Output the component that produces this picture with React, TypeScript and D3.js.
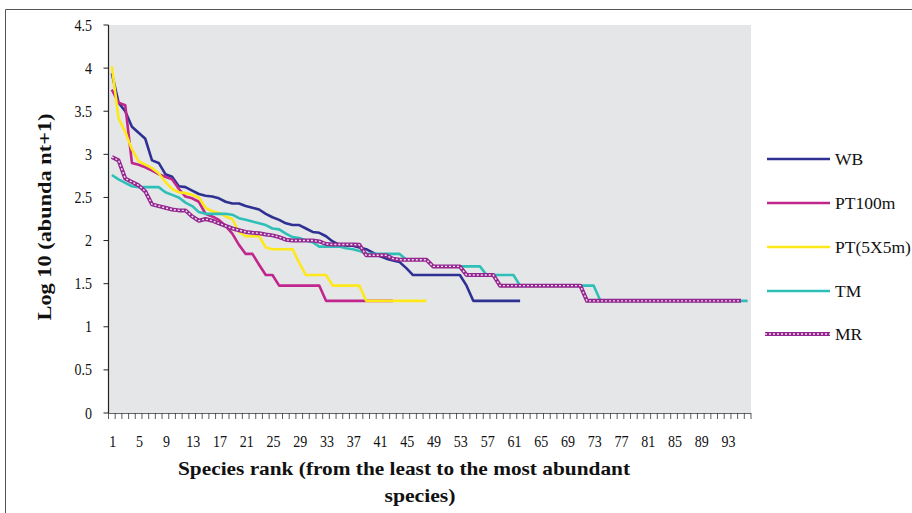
import React from 'react';
import * as d3 from 'd3';

// species ranks 1..96 on the category axis
const ranks = d3.range(1, 97);
const xTickLabels = ['1', '5', '9', '13', '17', '21', '25', '29', '33', '37', '41', '45', '49', '53', '57', '61', '65', '69', '73', '77', '81', '85', '89', '93'];
const yTicks = [0, 0.5, 1, 1.5, 2, 2.5, 3, 3.5, 4, 4.5];

// Log10(abundance+1), ordered by rank
const WB = [
  3.94, 3.6, 3.5, 3.32, 3.25, 3.18, 2.93, 2.9, 2.77, 2.74,
  2.63, 2.62, 2.58, 2.54, 2.52, 2.51, 2.49, 2.45, 2.43, 2.43,
  2.4, 2.38, 2.36, 2.31, 2.27, 2.24, 2.2, 2.18, 2.18, 2.14,
  2.1, 2.09, 2.05, 1.99, 1.95, 1.94, 1.94, 1.92, 1.9, 1.86,
  1.82, 1.79, 1.77, 1.75, 1.68, 1.6, 1.6, 1.6, 1.6, 1.6,
  1.6, 1.6, 1.6, 1.477, 1.301, 1.301, 1.301, 1.301, 1.301, 1.301,
  1.301, 1.301,
];
const PT100m = [
  3.75, 3.6, 3.57, 2.9, 2.88, 2.85, 2.81, 2.77, 2.74, 2.71,
  2.6, 2.51, 2.49, 2.45, 2.31, 2.28, 2.24, 2.17, 2.08, 1.95,
  1.845, 1.845, 1.72, 1.6, 1.6, 1.477, 1.477, 1.477, 1.477, 1.477,
  1.477, 1.477, 1.301, 1.301, 1.301, 1.301, 1.301, 1.301, 1.301, 1.301,
  1.301, 1.301, 1.301,
];
const PT5x5 = [
  4.02, 3.42, 3.26, 3.06, 2.92, 2.88, 2.84, 2.78, 2.68, 2.6,
  2.56, 2.55, 2.53, 2.5, 2.38, 2.34, 2.32, 2.28, 2.25, 2.1,
  2.05, 2.05, 2.05, 1.92, 1.9, 1.9, 1.9, 1.9, 1.74, 1.6,
  1.6, 1.6, 1.6, 1.477, 1.477, 1.477, 1.477, 1.477, 1.301, 1.301,
  1.301, 1.301, 1.301, 1.301, 1.301, 1.301, 1.301, 1.301,
];
const TM = [
  2.76, 2.71, 2.67, 2.63, 2.62, 2.62, 2.62, 2.62, 2.56, 2.53,
  2.5, 2.44, 2.4, 2.33, 2.31, 2.31, 2.31, 2.31, 2.3, 2.26,
  2.24, 2.22, 2.2, 2.18, 2.14, 2.13, 2.08, 2.04, 2.03, 2.0,
  1.98, 1.93, 1.93, 1.93, 1.93, 1.91, 1.9, 1.88, 1.845, 1.845,
  1.845, 1.845, 1.845, 1.845, 1.778, 1.778, 1.778, 1.778, 1.7, 1.7,
  1.7, 1.7, 1.7, 1.7, 1.7, 1.7, 1.6, 1.6, 1.6, 1.6,
  1.6, 1.477, 1.477, 1.477, 1.477, 1.477, 1.477, 1.477, 1.477, 1.477,
  1.477, 1.477, 1.477, 1.301, 1.301, 1.301, 1.301, 1.301, 1.301, 1.301,
  1.301, 1.301, 1.301, 1.301, 1.301, 1.301, 1.301, 1.301, 1.301, 1.301,
  1.301, 1.301, 1.301, 1.301, 1.301, 1.301,
];
const MR = [
  2.97, 2.93, 2.72, 2.68, 2.64, 2.57, 2.42, 2.4, 2.38, 2.36,
  2.35, 2.35, 2.28, 2.23, 2.25, 2.23, 2.2, 2.17, 2.14, 2.12,
  2.1, 2.09, 2.085, 2.07, 2.06, 2.04, 2.01, 2.0, 2.0, 2.0,
  2.0, 1.99, 1.96, 1.954, 1.954, 1.954, 1.954, 1.95, 1.83, 1.83,
  1.83, 1.83, 1.79, 1.778, 1.778, 1.778, 1.778, 1.778, 1.7, 1.7,
  1.7, 1.7, 1.7, 1.6, 1.6, 1.6, 1.6, 1.6, 1.477, 1.477,
  1.477, 1.477, 1.477, 1.477, 1.477, 1.477, 1.477, 1.477, 1.477, 1.477,
  1.477, 1.301, 1.301, 1.301, 1.301, 1.301, 1.301, 1.301, 1.301, 1.301,
  1.301, 1.301, 1.301, 1.301, 1.301, 1.301, 1.301, 1.301, 1.301, 1.301,
  1.301, 1.301, 1.301, 1.301, 1.301,
];

const seriesNames = ['WB', 'PT100m', 'PT(5X5m)', 'TM', 'MR'];
const seriesValues = [WB, PT100m, PT5x5, TM, MR];
const seriesColors = ['#2E3192', '#C0268C', '#FFE81A', '#2EC0B8', '#93278F'];

const W = 912;
const H = 513;
const plot = { left: 108.5, right: 751, top: 25, bottom: 413 };

const serif = '"Liberation Serif", "Times New Roman", serif';

const App: React.FC = () => {
  const x = d3.scaleBand<number>()
    .domain(ranks)
    .range([plot.left, plot.right])
    .padding(0);
  const cx = (r: number) => (x(r) || 0) + x.bandwidth() / 2;

  const y = d3.scaleLinear()
    .domain([0, 4.5])
    .range([plot.bottom, plot.top]);

  const line = d3.line<number>()
    .x((_, i) => cx(i + 1))
    .y(d => y(d));

  const legendY = [159, 203, 247, 291, 334];

  return (
    <svg width={W} height={H} style={{ position: 'absolute', left: 0, top: 0, display: 'block', background: '#fff' }}
      fontFamily={serif}>
      {/* outer frame */}
      <path d={`M5.5,${H}V9.5H${W}`} fill="none" stroke="#555" strokeWidth={1} />

      {/* plot area */}
      <rect x={plot.left} y={plot.top} width={plot.right - plot.left} height={plot.bottom - plot.top} fill="#E5E6E8" />

      {/* y axis */}
      <line x1={plot.left} x2={plot.left} y1={plot.top} y2={plot.bottom} stroke="#222" strokeWidth={1.2} />
      {yTicks.map(t => (
        <g key={t}>
          <line x1={plot.left - 5} x2={plot.left} y1={y(t)} y2={y(t)} stroke="#222" strokeWidth={1} />
          <text transform={`translate(92,${y(t) + 5.5}) scale(0.85,1)`} textAnchor="end" fontSize={16.5} fill="#111">
            {String(t)}
          </text>
        </g>
      ))}

      {/* x axis */}
      <line x1={plot.left} x2={plot.right} y1={plot.bottom + 0.5} y2={plot.bottom + 0.5} stroke="#666" strokeWidth={1.2} />
      {[...ranks, 97].map(r => {
        const xx = r <= 96 ? (x(r) || 0) : plot.right;
        return <line key={r} x1={xx} x2={xx} y1={plot.bottom} y2={plot.bottom + 6} stroke="#333" strokeWidth={0.8} />;
      })}
      {xTickLabels.map(l => (
        <text key={l} transform={`translate(${cx(+l) + 1},447) scale(0.85,1)`} textAnchor="middle" fontSize={16.5} fill="#111">
          {l}
        </text>
      ))}

      {/* series */}
      {seriesValues.map((vals, i) => (
        <g key={seriesNames[i]}>
          <path d={line(vals) || ''} fill="none" stroke={seriesColors[i]}
            strokeWidth={i === 4 ? 4 : 2.6} strokeLinejoin="round" />
          {i === 4 && (
            <path d={line(vals) || ''} fill="none" stroke="#F3DDF0" strokeWidth={1.4} strokeDasharray="2 2" />
          )}
        </g>
      ))}

      {/* legend */}
      {seriesNames.map((n, i) => (
        <g key={n}>
          <line x1={i === 4 ? 765 : 767} x2={830} y1={legendY[i]} y2={legendY[i]} stroke={seriesColors[i]}
            strokeWidth={i === 4 ? 4 : 2.6} />
          {i === 4 && (
            <line x1={765} x2={830} y1={legendY[i]} y2={legendY[i]} stroke="#F3DDF0" strokeWidth={1.4} strokeDasharray="2 2" />
          )}
          <text x={835} y={legendY[i] + 6} fontSize={17.5} fill="#111">{n}</text>
        </g>
      ))}

      {/* axis titles */}
      <text transform="translate(51,217) rotate(-90)" textAnchor="middle" fontSize={19} fontWeight="bold"
        textLength={207} lengthAdjust="spacingAndGlyphs" fill="#111">
        Log 10 (abunda nt+1)
      </text>
      <text x={404} y={475} textAnchor="middle" fontSize={19} fontWeight="bold"
        textLength={452} lengthAdjust="spacingAndGlyphs" fill="#111">
        Species rank (from the least to the most abundant
      </text>
      <text x={420} y={502} textAnchor="middle" fontSize={19} fontWeight="bold"
        textLength={71} lengthAdjust="spacingAndGlyphs" fill="#111">
        species)
      </text>
    </svg>
  );
};

export default App;
